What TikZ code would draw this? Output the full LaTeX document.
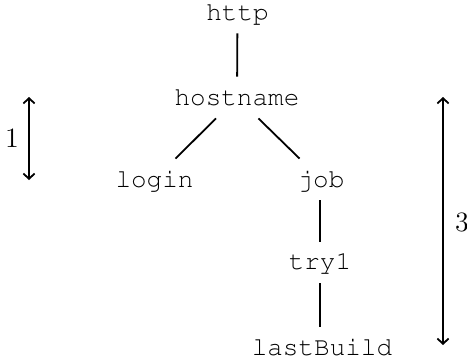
\documentclass[tikz,border=0pt]{standalone}
\usepackage[T1,TU]{fontenc}
\usetikzlibrary{arrows.meta}
\newcommand{\crfont}{\fontencoding{T1}\fontfamily{pcr}\fontsize{13}{15}\selectfont}
\begin{document}
\begin{tikzpicture}[x=0.5pt,y=-0.5pt,
  tn/.style={inner sep=0pt,anchor=base,text height=14pt,text depth=6.5pt,font=\crfont},
  edge/.style={line width=0.9pt},
  dim/.style={line width=0.9pt,{Straight Barb[length=2.6pt,width=5.6pt]}-{Straight Barb[length=2.6pt,width=5.6pt]}},
  lbl/.style={inner sep=0pt,font=\fontsize{14}{16}\selectfont}]
\useasboundingbox (0,0) rectangle (467,364);
\node[tn] (http) at (237.5,20) {http};
\node[tn] (hostname) at (237,105) {hostname};
\node[tn] (login) at (154.5,187) {login};
\node[tn] (job) at (321,187) {job};
\node[tn] (try1) at (320,270) {try1};
\node[tn] (lastBuild) at (322,355) {lastBuild};
\draw[edge] (http) -- (hostname);
\draw[edge] (hostname) -- (login);
\draw[edge] (hostname) -- (job);
\draw[edge] (job.south -| try1) -- (try1);
\draw[edge] (try1) -- (lastBuild.north -| try1);
\coordinate (a1) at (29,97);
\coordinate (a2) at (29,180);
\coordinate (b1) at (443,97);
\coordinate (b2) at (443,345);
\draw[dim] (a1) -- (a2);
\draw[dim] (b1) -- (b2);
\node[lbl] (one) at (12,138) {1};
\node[lbl] (three) at (462,222) {3};
\end{tikzpicture}
\end{document}
